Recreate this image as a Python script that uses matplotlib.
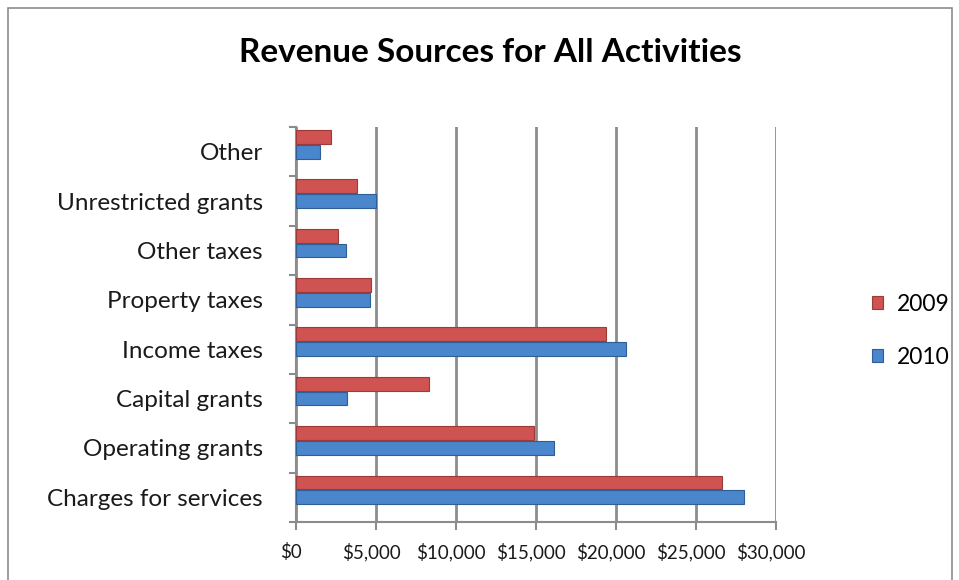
import matplotlib.pyplot as plt
import matplotlib.transforms as mtransforms
from matplotlib.patches import Rectangle

# Revenue by source, in dollars
categories = ["Charges for services", "Operating grants", "Capital grants",
              "Income taxes", "Property taxes", "Other taxes",
              "Unrestricted grants", "Other"]
rev_2009 = [26600, 14900, 8300, 19400, 4700, 2600, 3800, 2200]
rev_2010 = [28000, 16100, 3200, 20600, 4600, 3100, 5000, 1500]
x_ticks = [0, 5000, 10000, 15000, 20000, 25000, 30000]
x_labels = ["$0", "$5,000", "$10,000", "$15,000", "$20,000", "$25,000", "$30,000"]

plt.rcParams['font.family'] = ['Lato', 'DejaVu Sans']

fig = plt.figure(figsize=(9.59, 5.8), dpi=100)
ax = fig.add_axes([296 / 959, 1 - 522 / 580, 480 / 959, 395 / 580])

ypos = list(range(len(categories)))
bar_h = 0.28
red = "#CF5350"
blue = "#4A86CC"
ax.barh([y + 0.3 for y in ypos], rev_2009, height=bar_h, color=red,
        edgecolor="#9E3A38", linewidth=0.8, label="2009", zorder=3)
ax.barh(ypos, rev_2010, height=bar_h, color=blue,
        edgecolor="#2F5E96", linewidth=0.8, label="2010", zorder=3)

ax.set_xlim(0, 30000)
ax.set_ylim(-0.5, len(categories) - 0.5)
ax.set_xticks(x_ticks)
ax.set_xticklabels(x_labels)
ax.set_yticks(ypos)
ax.set_yticklabels(categories)

# gridlines and frame in the grey Excel style
ax.grid(axis="x", color="#8C8C8C", linewidth=2, zorder=0)
for side in ["top", "right"]:
    ax.spines[side].set_visible(False)
for side in ["left", "bottom"]:
    ax.spines[side].set_color("#8C8C8C")
    ax.spines[side].set_linewidth(1.5)
ax.tick_params(axis="y", length=0, labelsize=17.5, pad=24, labelcolor="#1A1A1A")
ax.tick_params(axis="x", length=6, width=1.5, color="#8C8C8C", labelsize=13.5,
               pad=9, labelcolor="#1A1A1A")

# category boundary ticks on the left axis
for b in range(len(categories) + 1):
    ax.plot([-0.012, 0], [b - 0.5, b - 0.5], transform=ax.get_yaxis_transform(),
            color="#8C8C8C", lw=1.5, clip_on=False)

# shift x labels left a little, like the front edge of the floor
shift = mtransforms.ScaledTranslation(-5 / 100, 0, fig.dpi_scale_trans)
for lbl in ax.get_xticklabels():
    lbl.set_transform(lbl.get_transform() + shift)

handles, labels = ax.get_legend_handles_labels()
fig.legend(handles, labels, loc="center left", bbox_to_anchor=(851 / 959, 1 - 331 / 580),
           frameon=False, fontsize=16.5, handlelength=0.5, handleheight=0.5,
           labelspacing=1.4, handletextpad=0.6)

fig.text(490 / 959, 1 - 52 / 580, "Revenue Sources for All Activities",
         ha="center", va="center", fontsize=24, fontweight="bold")

# chart area border
fig.patches.append(Rectangle((8 / 959, -0.05), 944 / 959, 1.05 - 8 / 580,
                             transform=fig.transFigure, fill=False,
                             edgecolor="#8C8C8C", linewidth=1.2))

fig.savefig("out.png", dpi=100)
